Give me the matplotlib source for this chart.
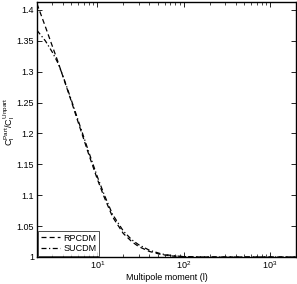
import matplotlib
matplotlib.use('Agg')
import matplotlib.pyplot as plt

# multipole moments and ratio C_l^Part / C_l^Unpart
ell = [2, 2.5, 3, 3.5, 4, 5, 6, 8, 10, 12, 15, 20, 25, 30, 40, 55, 75, 100, 150, 500, 1000, 2000]
rpcdm = [1.41, 1.373, 1.342, 1.316, 1.292, 1.252, 1.218, 1.165, 1.126, 1.097, 1.065,
         1.038, 1.025, 1.017, 1.009, 1.004, 1.0015, 1.0005, 1.0, 1.0, 1.0, 1.0]
sucdm = [1.367, 1.350, 1.332, 1.314, 1.293, 1.254, 1.221, 1.169, 1.130, 1.101, 1.069,
         1.042, 1.028, 1.020, 1.011, 1.005, 1.002, 1.0007, 1.0, 1.0, 1.0, 1.0]
yticks = [1, 1.05, 1.1, 1.15, 1.2, 1.25, 1.3, 1.35, 1.4]
ytick_labels = ['1', '1.05', '1.1', '1.15', '1.2', '1.25', '1.3', '1.35', '1.4']

plt.rcParams['font.family'] = ['Liberation Sans', 'DejaVu Sans']
plt.rcParams['mathtext.fontset'] = 'custom'
plt.rcParams['mathtext.rm'] = 'Liberation Sans'
plt.rcParams['mathtext.it'] = 'Liberation Sans:italic'

fig = plt.figure(figsize=(2.97, 2.84), dpi=100)
ax = fig.add_axes([0.1246, 0.0951, 0.872, 0.898])

ax.plot(ell, rpcdm, color='black', linestyle=(0, (4, 2.5)), linewidth=0.9, label='RPCDM')
ax.plot(ell, sucdm, color='black', linestyle=(0, (4, 2, 1, 2)), linewidth=0.9, label='SUCDM')

ax.set_xscale('log')
ax.set_xlim(2, 2000)
ax.set_ylim(1, 1.413)
ax.set_yticks(yticks)
ax.set_yticklabels(ytick_labels)

ax.tick_params(which='both', direction='in', top=True, right=True, labelsize=6.5, pad=2)
ax.tick_params(which='major', length=3.5, width=0.6)
ax.tick_params(which='minor', length=2, width=0.5)
for spine in ax.spines.values():
    spine.set_linewidth(1.0)

ax.set_xlabel('Multipole moment (l)', fontsize=6.5, labelpad=1)
ax.set_ylabel(r'$\mathrm{C_l^{Part}/C_l^{Unpart}}$', fontsize=6.5, labelpad=1)
ax.yaxis.set_label_coords(-0.078, 0.53)

leg = ax.legend(loc='lower left', fontsize=6.5, frameon=True, fancybox=False,
                borderpad=0.25, handlelength=2.2, handletextpad=0.3,
                labelspacing=0.2, borderaxespad=0.15)
leg.get_frame().set_edgecolor('black')
leg.get_frame().set_linewidth(0.6)

fig.savefig('out.png', dpi=100)
